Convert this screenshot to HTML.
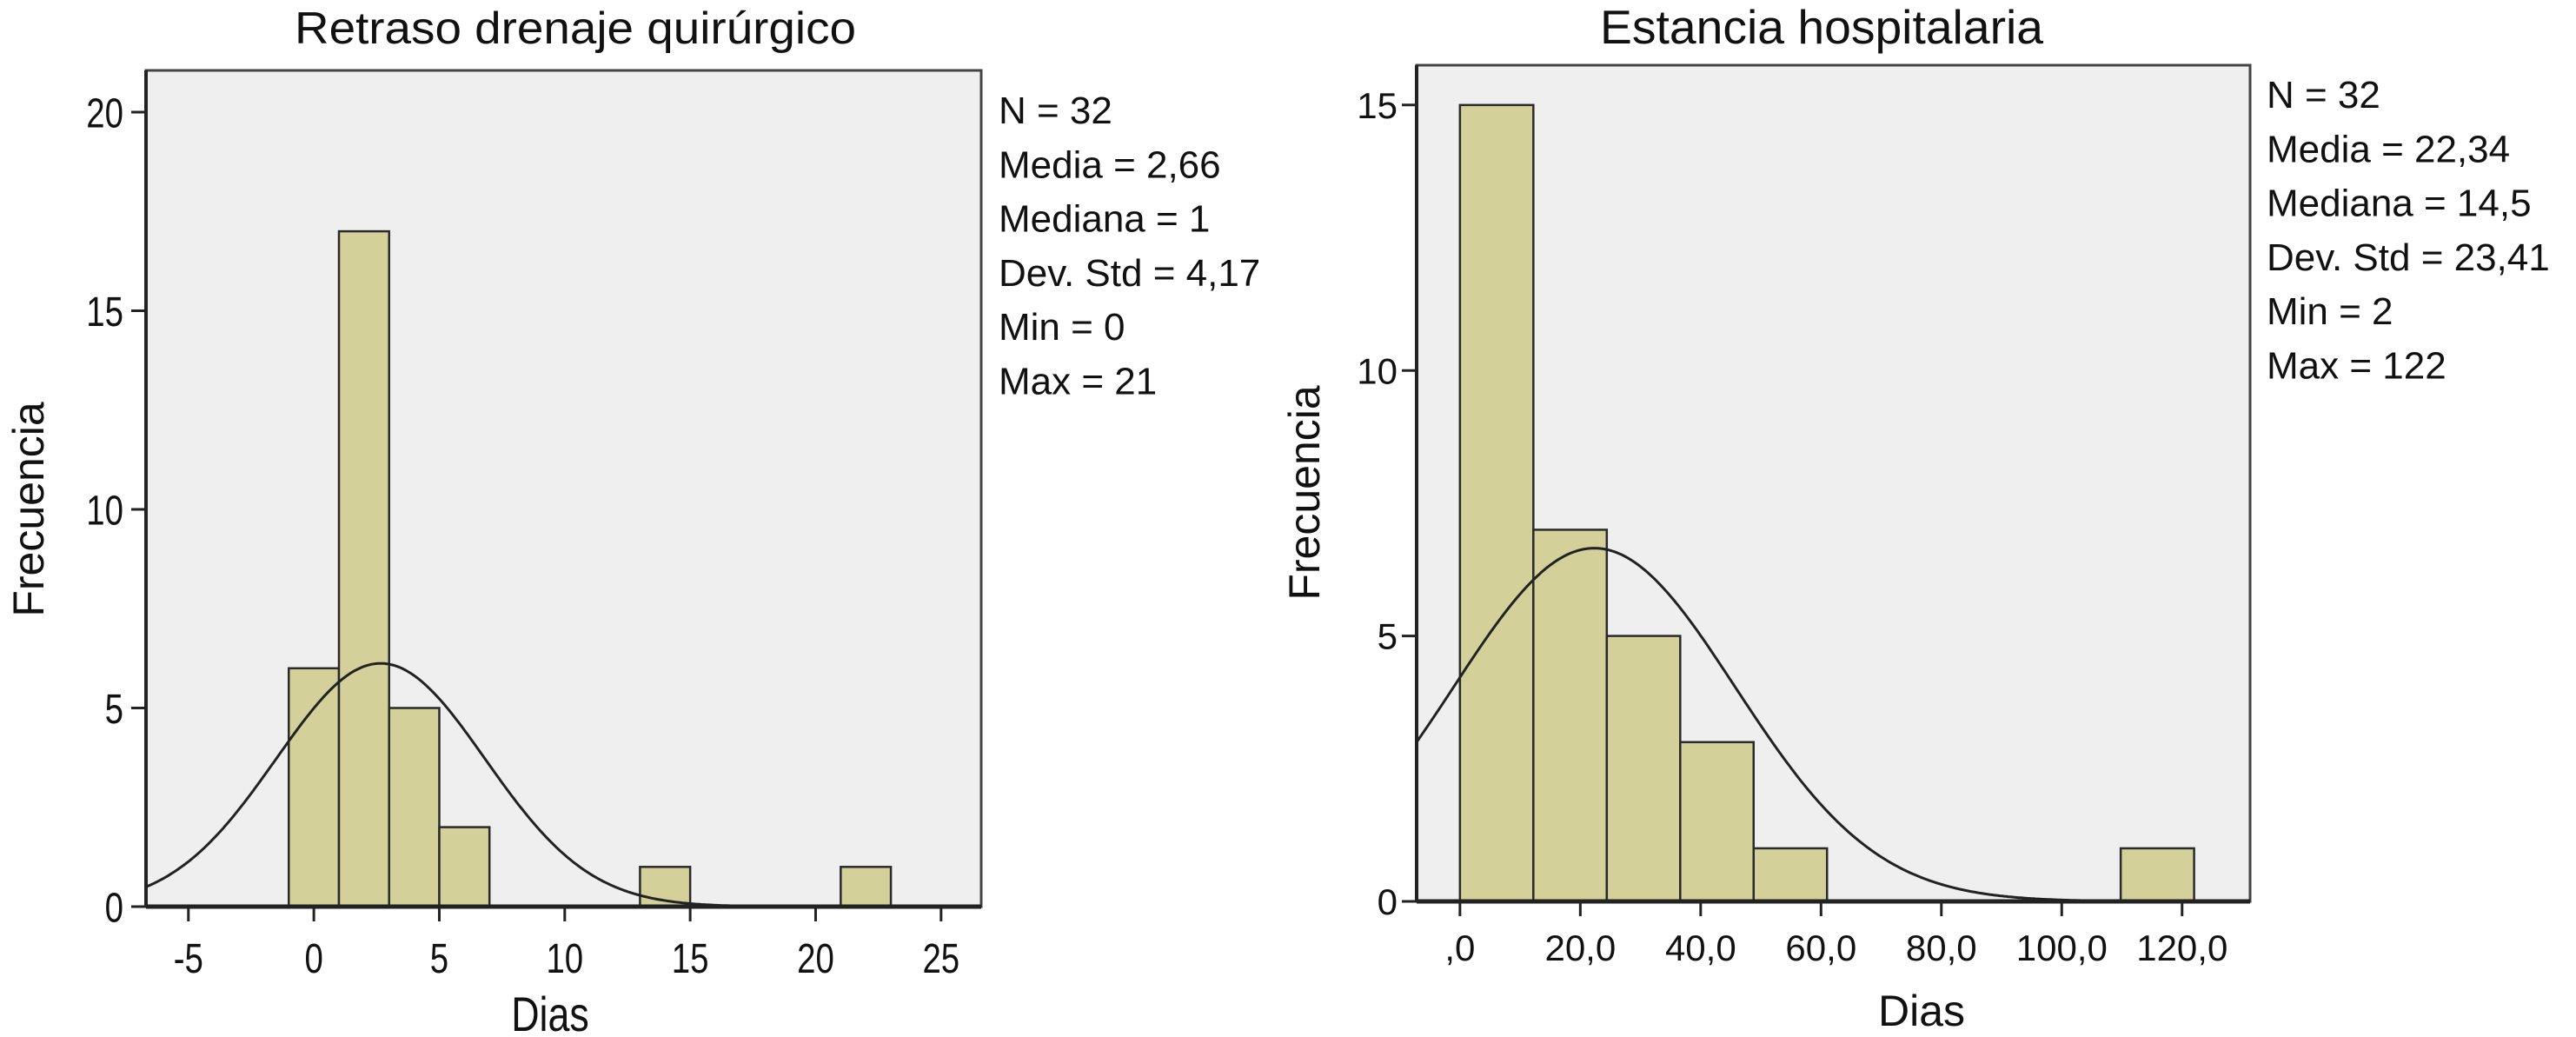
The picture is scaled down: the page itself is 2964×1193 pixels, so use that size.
<!DOCTYPE html>
<html><head><meta charset="utf-8"><style>
html,body{margin:0;padding:0;background:#fff;}
svg{display:block;}
text{font-family:"Liberation Sans",sans-serif;fill:#111;}
</style></head><body>
<svg id="svg" width="2964" height="1193" viewBox="0 0 2964 1193" xmlns="http://www.w3.org/2000/svg">
<g id="c1"></g>
<g id="c2"></g>
</svg>
<script>
// Chart 1 data
const bins1Start = [-1, 1, 3, 5, 13, 21];
const bins1Count = [6, 17, 5, 2, 1, 1];
const bin1Width = 2;
const xTicks1 = [-5, 0, 5, 10, 15, 20, 25];
const xTickLabels1 = ["-5","0","5","10","15","20","25"];
const yTicks1 = [0, 5, 10, 15, 20];
const stats1 = ["N = 32","Media = 2,66","Mediana = 1","Dev. Std = 4,17","Min = 0","Max = 21"];
const normal1 = [2.66, 4.17, 32];
// Chart 2 data
const bins2Start = [0, 12.2, 24.4, 36.6, 48.8, 109.8];
const bins2Count = [15, 7, 5, 3, 1, 1];
const bin2Width = 12.2;
const xTicks2 = [0, 20, 40, 60, 80, 100, 120];
const xTickLabels2 = [",0","20,0","40,0","60,0","80,0","100,0","120,0"];
const yTicks2 = [0, 5, 10, 15];
const stats2 = ["N = 32","Media = 22,34","Mediana = 14,5","Dev. Std = 23,41","Min = 2","Max = 122"];
const normal2 = [22.34, 23.41, 32];

const NS="http://www.w3.org/2000/svg";
function mk(parent,tag,attrs,txt){const e=document.createElementNS(NS,tag);for(const k in attrs)e.setAttribute(k,attrs[k]);if(txt!==undefined)e.textContent=txt;parent.appendChild(e);return e;}
function tx(g,x,y,anchor,fs,sx,s){
  return mk(g,'text',{x:0,y:0,'text-anchor':anchor,'font-size':fs,transform:`translate(${x},${y}) scale(${sx},1)`},s);
}

function draw(g,cfg){
  const L=cfg.box[0],T=cfg.box[1],R=cfg.box[2],B=cfg.box[3];
  const xs=v=>L+(v-cfg.xd[0])/(cfg.xd[1]-cfg.xd[0])*(R-L);
  const ys=v=>B-(v-cfg.yd[0])/(cfg.yd[1]-cfg.yd[0])*(B-T);
  const bg=mk(g,'rect',{x:L,y:T,width:R-L,height:B-T,fill:'#efefef',stroke:'#444','stroke-width':3});
  
  
  cfg.bs.forEach((s,i)=>{
    const c=cfg.bc[i];
    const r=mk(g,'rect',{x:xs(s),y:ys(c),width:xs(s+cfg.bw)-xs(s),height:ys(0)-ys(c),fill:'#d4d09a',stroke:'#2a2a2a','stroke-width':2.5});
    
    
  });
  const [mu,sd,n]=cfg.norm;
  let d='';
  for(let i=0;i<=400;i++){
    const x=cfg.xd[0]+(cfg.xd[1]-cfg.xd[0])*i/400;
    const y=n*cfg.bw/(sd*Math.sqrt(2*Math.PI))*Math.exp(-0.5*((x-mu)/sd)**2);
    d+=(i?'L':'M')+xs(x).toFixed(1)+','+ys(y).toFixed(1);
  }
  const p=mk(g,'path',{d:d,fill:'none',stroke:'#222','stroke-width':3});
  
  
  const ax=mk(g,'line',{x1:L,y1:B,x2:R,y2:B,stroke:'#222','stroke-width':5});
  
  
  const ay=mk(g,'line',{x1:L,y1:T,x2:L,y2:B,stroke:'#222','stroke-width':4});
  
  
  cfg.xt.forEach((v,i)=>{
    const x=xs(v);
    mk(g,'line',{x1:x,y1:B,x2:x,y2:B+17,stroke:'#222','stroke-width':3});
    const t=tx(g,x,B+cfg.xlOff,'middle',cfg.fs,cfg.sx,cfg.xl[i]);
    
    
  });
  cfg.yt.forEach(v=>{
    const y=ys(v);
    mk(g,'line',{x1:L-17,y1:y,x2:L,y2:y,stroke:'#222','stroke-width':3});
    const t=tx(g,L-cfg.ylOff,y+cfg.fs*0.36,'end',cfg.fs,cfg.sx,String(v));
    
    
  });
  const tt=mk(g,'text',{x:cfg.title[1],y:cfg.title[2],'text-anchor':'middle','font-size':cfg.title[3],textLength:cfg.title[4],lengthAdjust:'spacingAndGlyphs'},cfg.title[0]);
  
  
  const yl=mk(g,'text',{x:0,y:0,'text-anchor':'middle','font-size':50,transform:`translate(${cfg.ylab[0]},${cfg.ylab[1]}) rotate(-90)`},'Frecuencia');
  
  
  const xl=tx(g,cfg.xlab[0],cfg.xlab[1],'middle',cfg.xlab[2],cfg.xlab[3],'Dias');
  
  
  cfg.st.forEach((s,i)=>{
    const t=mk(g,'text',{x:cfg.stPos[0],y:cfg.stPos[1]+i*62.3,'font-size':44},s);
    
    
  });
}

draw(document.getElementById('c1'),{box:[168,81,1129,1043],xd:[-6.69,26.6],yd:[0,21.05],
  bs:bins1Start,bc:bins1Count,bw:bin1Width,norm:normal1,xt:xTicks1,xl:xTickLabels1,yt:yTicks1,
  fs:48,sx:0.8,xlOff:76,ylOff:26,title:['Retraso drenaje quirúrgico',662,50,52,646],
  ylab:[50,586],xlab:[633,1186,56,0.8],st:stats1,stPos:[1149,142]});
draw(document.getElementById('c2'),{box:[1630,75,2589,1037],xd:[-7.2,131.3],yd:[0,15.75],
  bs:bins2Start,bc:bins2Count,bw:bin2Width,norm:normal2,xt:xTicks2,xl:xTickLabels2,yt:yTicks2,
  fs:42,sx:1,xlOff:68,ylOff:22,title:['Estancia hospitalaria',2096,50,55,510],
  ylab:[1518,567],xlab:[2211,1180,50,1],st:stats2,stPos:[2608,124]});
</script>
</body></html>
